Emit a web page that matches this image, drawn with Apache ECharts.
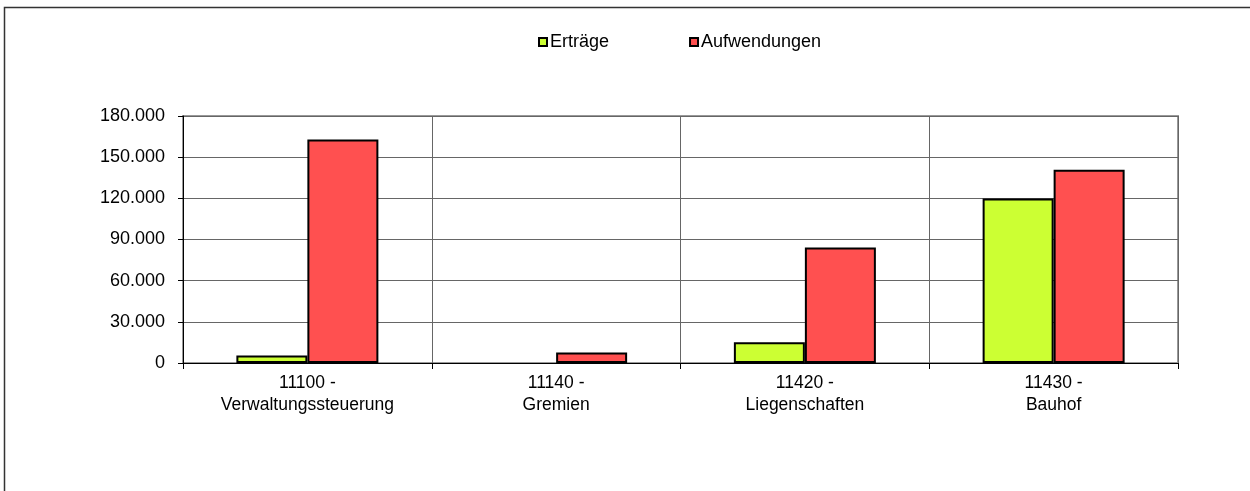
<!DOCTYPE html>
<html>
<head>
<meta charset="utf-8">
<script src="https://cdn.jsdelivr.net/npm/echarts@6/dist/echarts.min.js"></script>
<style>
html,body{margin:0;padding:0;background:#fff;}
#chart{width:1250px;height:491px;}
</style>
</head>
<body>
<div id="chart"></div>
<script>
const categories = ['11100 -\nVerwaltungssteuerung', '11140 -\nGremien', '11420 -\nLiegenschaften', '11430 -\nBauhof'];
const ertraege = [5500, 0, 15200, 119800];
const aufwendungen = [162800, 7600, 84200, 140800];
const yTicks = [0, 30000, 60000, 90000, 120000, 150000, 180000];

const fmt = v => String(v).replace(/\B(?=(\d{3})+(?!\d))/g, '.');
const font = '"Liberation Sans", Arial, sans-serif';
const hideZero = arr => arr.map(v => v === 0 ? {value: v, itemStyle: {borderWidth: 0, opacity: 0}} : v);

const chart = echarts.init(document.getElementById('chart'), null, {renderer: 'canvas'});
chart.setOption({
  animation: false,
  backgroundColor: '#fff',
  textStyle: {fontFamily: font},
  graphic: [{
    type: 'rect',
    shape: {x: 4.5, y: 7.5, width: 1300, height: 600},
    style: {fill: 'none', stroke: '#333', lineWidth: 1.5},
    silent: true, z: 0
  }],
  legend: {
    top: 28, left: 533,
    itemWidth: 8, itemHeight: 8, itemGap: 80,
    textStyle: {fontFamily: font, fontSize: 18, color: '#000', padding: [0, 0, 0, -2]},
    data: [
      {name: 'Erträge', icon: 'rect', itemStyle: {color: '#ccff33', borderColor: '#000', borderWidth: 2}},
      {name: 'Aufwendungen', icon: 'rect', itemStyle: {color: '#ff5050', borderColor: '#000', borderWidth: 2}}
    ]
  },
  grid: {
    left: 183, right: 72, top: 116, bottom: 128,
    show: true, borderColor: '#999', borderWidth: 2, backgroundColor: '#fff'
  },
  xAxis: {
    type: 'category',
    data: categories,
    axisLine: {lineStyle: {color: '#000', width: 1}},
    axisTick: {show: true, length: 6, lineStyle: {color: '#000'}},
    splitLine: {show: true, lineStyle: {color: '#666', width: 1}},
    axisLabel: {fontFamily: font, fontSize: 17.5, color: '#000', lineHeight: 22, margin: 9}
  },
  yAxis: {
    type: 'value',
    min: 0, max: 180000, interval: 30000,
    axisLine: {show: true, lineStyle: {color: '#000', width: 1}},
    axisTick: {show: true, length: 5, lineStyle: {color: '#000'}},
    splitLine: {show: true, lineStyle: {color: '#666', width: 1}},
    axisLabel: {fontFamily: font, fontSize: 18, color: '#000', margin: 18,
      formatter: v => yTicks.includes(v) ? fmt(v) : ''}
  },
  series: [
    {name: 'Erträge', type: 'bar', data: hideZero(ertraege), barWidth: 71, barGap: '0%',
      itemStyle: {color: '#ccff33', borderColor: '#000', borderWidth: 2}},
    {name: 'Aufwendungen', type: 'bar', data: hideZero(aufwendungen), barWidth: 71, barGap: '0%',
      itemStyle: {color: '#ff5050', borderColor: '#000', borderWidth: 2}}
  ]
});
</script>
</body>
</html>
